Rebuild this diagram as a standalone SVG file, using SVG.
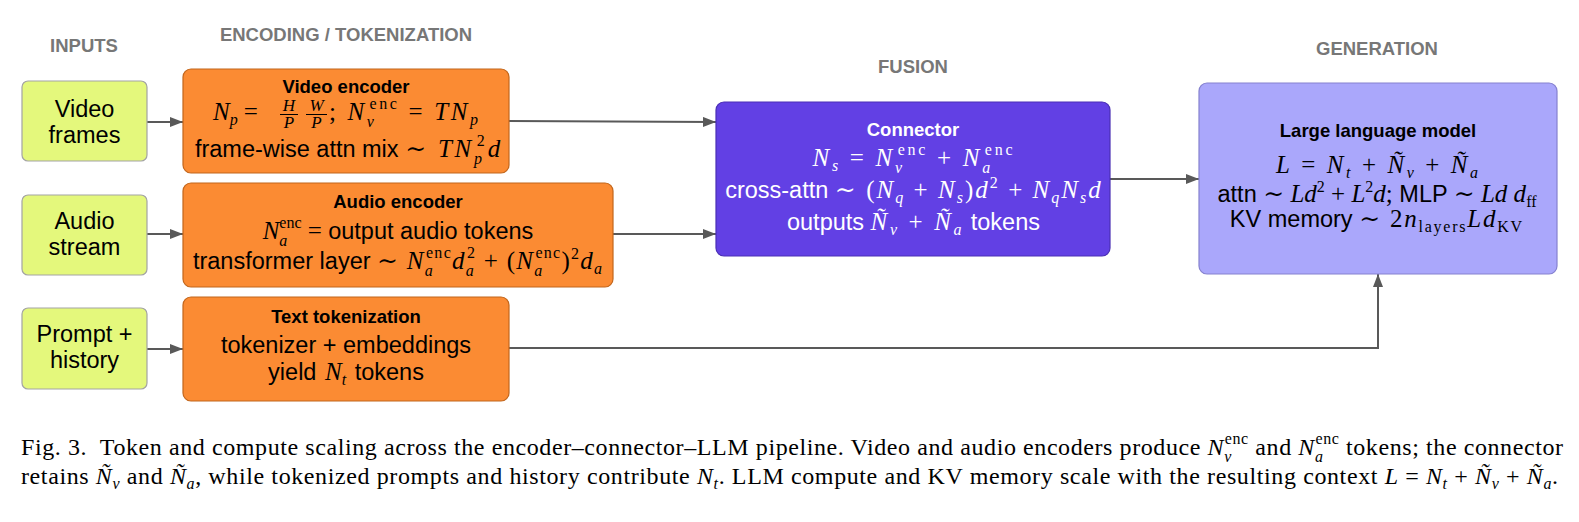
<svg xmlns="http://www.w3.org/2000/svg" width="1579" height="522" viewBox="0 0 1579 522">
<style>
.h{font-family:"Liberation Sans",Arial,sans-serif;font-weight:bold;font-size:18.5px;fill:#777}
.t{font-family:"Liberation Sans",Arial,sans-serif;font-size:23.5px;fill:#000}
.w{fill:#fff}
.b{font-weight:bold;font-size:18.5px}
.mi{font-family:"Liberation Serif",serif;font-style:italic;font-size:25px}
.mr{font-family:"Liberation Serif","DejaVu Serif",serif;font-style:normal;font-size:25px}
.si{font-family:"Liberation Serif",serif;font-style:italic;font-size:16px}
.sr{font-family:"Liberation Serif",serif;font-style:normal;font-size:16px}
.fr{font-family:"Liberation Serif",serif;font-style:italic;font-size:17px}
.cap{font-family:"Liberation Serif",serif;font-size:24px;fill:#000}
.ci{font-style:italic}
.cs{font-style:italic;font-size:16px}
.csr{font-size:16px}
.in{fill:#e4f87c;stroke:#a3a3a3;stroke-width:1.2}
.enc{fill:#fb8b33;stroke:#c2661c;stroke-width:1.2}
.con{fill:#6240e4;stroke:#4a2fb5;stroke-width:1.2}
.llm{fill:#aaa7fb;stroke:#8581cf;stroke-width:1.2}
.e{fill:none;stroke:#595959;stroke-width:2}
</style>
<defs>
<marker id="ah" viewBox="0 0 13 10" refX="13" refY="5" markerWidth="13" markerHeight="10" markerUnits="userSpaceOnUse" orient="auto">
<path d="M0,0 L13,5 L0,10 z" fill="#595959"/>
</marker>
</defs>
<rect width="1579" height="522" fill="#fff"/>

<g id="headers">
<text class="h" x="84" y="52" text-anchor="middle">INPUTS</text>
<text class="h" x="346" y="41" text-anchor="middle">ENCODING / TOKENIZATION</text>
<text class="h" x="913" y="73" text-anchor="middle">FUSION</text>
<text class="h" x="1377" y="55" text-anchor="middle">GENERATION</text>
</g>

<g id="connectors">
<path class="e" d="M147,122 H183" marker-end="url(#ah)"/>
<path class="e" d="M147,234 H183" marker-end="url(#ah)"/>
<path class="e" d="M147,349 H183" marker-end="url(#ah)"/>
<path class="e" d="M509,121 L716,122" marker-end="url(#ah)"/>
<path class="e" d="M613,234 H716" marker-end="url(#ah)"/>
<path class="e" d="M1110,179 H1199" marker-end="url(#ah)"/>
<path class="e" d="M509,348 H1378 V274" marker-end="url(#ah)"/>
</g>

<g id="video-frames">
<rect class="in" x="22" y="81" width="125" height="80" rx="6"/>
<text class="t" x="84.5" y="117" text-anchor="middle">Video</text>
<text class="t" x="84.5" y="143" text-anchor="middle">frames</text>
</g>

<g id="audio-stream">
<rect class="in" x="22" y="195" width="125" height="80" rx="6"/>
<text class="t" x="84.5" y="229" text-anchor="middle">Audio</text>
<text class="t" x="84.5" y="255" text-anchor="middle">stream</text>
</g>

<g id="prompt-history">
<rect class="in" x="22" y="308" width="125" height="81" rx="6"/>
<text class="t" x="84.5" y="342" text-anchor="middle">Prompt +</text>
<text class="t" x="84.5" y="368" text-anchor="middle">history</text>
</g>

<g id="video-encoder">
<rect class="enc" x="183" y="69" width="326" height="104" rx="8"/>
<text class="t b" x="346" y="93" text-anchor="middle">Video encoder</text>
<text class="t" x="213" y="120"><tspan class="mi">N</tspan><tspan class="si" dy="5">p</tspan><tspan class="mr" dy="-5" dx="6">=</tspan></text>
<text class="fr" x="289" y="111" text-anchor="middle">H</text>
<text class="fr" x="289" y="128" text-anchor="middle">P</text>
<text class="fr" x="316.5" y="111" text-anchor="middle">W</text>
<text class="fr" x="316.5" y="128" text-anchor="middle">P</text>
<path d="M280,114.5 H298 M306,114.5 H327" stroke="#000" stroke-width="1"/>
<text class="t" x="329" y="120" textLength="149" lengthAdjust="spacing"><tspan class="mr">; </tspan><tspan class="mi">N</tspan><tspan class="si" dy="7">v</tspan><tspan class="sr" dx="-7.1" dy="-18">enc</tspan><tspan class="mr" dy="11"> = </tspan><tspan class="mi">TN</tspan><tspan class="si" dy="5">p</tspan></text>
<text class="t" x="347.5" y="157" text-anchor="middle">frame-wise attn mix <tspan textLength="95" lengthAdjust="spacing"><tspan class="mr">∼ </tspan><tspan class="mi">TN</tspan><tspan class="si" dy="7">p</tspan><tspan class="sr" dx="-8" dy="-18">2</tspan><tspan class="mi" dy="11">d</tspan></tspan></text>
</g>

<g id="audio-encoder">
<rect class="enc" x="183" y="183" width="430" height="104" rx="8"/>
<text class="t b" x="398" y="208" text-anchor="middle">Audio encoder</text>
<text class="t" x="398" y="239" text-anchor="middle"><tspan class="mi">N</tspan><tspan class="si" dy="7">a</tspan><tspan class="sr" dx="-8" dy="-18">enc</tspan><tspan class="mr" dy="11"> = </tspan>output audio tokens</text>
<text class="t" x="397.5" y="269" text-anchor="middle">transformer layer <tspan textLength="225" lengthAdjust="spacing"><tspan class="mr">∼ </tspan><tspan class="mi">N</tspan><tspan class="si" dy="7">a</tspan><tspan class="sr" dx="-8" dy="-18">enc</tspan><tspan class="mi" dy="11">d</tspan><tspan class="si" dy="7">a</tspan><tspan class="sr" dx="-8" dy="-18">2</tspan><tspan class="mr" dy="11"> + (</tspan><tspan class="mi">N</tspan><tspan class="si" dy="7">a</tspan><tspan class="sr" dx="-8" dy="-18">enc</tspan><tspan class="mr" dy="11">)</tspan><tspan class="sr" dy="-10">2</tspan><tspan class="mi" dy="10">d</tspan><tspan class="si" dy="5">a</tspan></tspan></text>
</g>

<g id="text-tokenization">
<rect class="enc" x="183" y="297" width="326" height="104" rx="8"/>
<text class="t b" x="346" y="323" text-anchor="middle">Text tokenization</text>
<text class="t" x="346" y="353" text-anchor="middle">tokenizer + embeddings</text>
<text class="t" x="346" y="380" text-anchor="middle">yield <tspan class="mi" dx="2">N</tspan><tspan class="si" dy="5">t</tspan><tspan dy="-5" dx="2"> tokens</tspan></text>
</g>

<g id="connector">
<rect class="con" x="716" y="102" width="394" height="154" rx="8"/>
<text class="t w b" x="913" y="136" text-anchor="middle">Connector</text>
<text class="t w" x="912.5" y="166" text-anchor="middle" textLength="200" lengthAdjust="spacing"><tspan class="mi">N</tspan><tspan class="si" dy="5">s</tspan><tspan class="mr" dy="-5"> = </tspan><tspan class="mi">N</tspan><tspan class="si" dy="7">v</tspan><tspan class="sr" dx="-7.1" dy="-18">enc</tspan><tspan class="mr" dy="11"> + </tspan><tspan class="mi">N</tspan><tspan class="si" dy="7">a</tspan><tspan class="sr" dx="-8" dy="-18">enc</tspan></text>
<text class="t w" x="913" y="198" text-anchor="middle">cross-attn <tspan textLength="266" lengthAdjust="spacing"><tspan class="mr">∼ (</tspan><tspan class="mi">N</tspan><tspan class="si" dy="5">q</tspan><tspan class="mr" dy="-5"> + </tspan><tspan class="mi">N</tspan><tspan class="si" dy="5">s</tspan><tspan class="mr" dy="-5">)</tspan><tspan class="mi">d</tspan><tspan class="sr" dy="-10">2</tspan><tspan class="mr" dy="10"> + </tspan><tspan class="mi">N</tspan><tspan class="si" dy="5">q</tspan><tspan class="mi" dy="-5">N</tspan><tspan class="si" dy="5">s</tspan><tspan class="mi" dy="-5">d</tspan></tspan></text>
<text class="t w" x="913.5" y="230" text-anchor="middle">outputs <tspan textLength="91" lengthAdjust="spacing"><tspan class="mi">Ñ</tspan><tspan class="si" dy="5">v</tspan><tspan class="mr" dy="-5"> + </tspan><tspan class="mi">Ñ</tspan><tspan class="si" dy="5">a</tspan></tspan><tspan dy="-5"> tokens</tspan></text>
</g>

<g id="llm">
<rect class="llm" x="1199" y="83" width="358" height="191" rx="8"/>
<text class="t b" x="1378" y="137" text-anchor="middle">Large language model</text>
<text class="t" x="1377" y="173" text-anchor="middle" textLength="202" lengthAdjust="spacing"><tspan class="mi">L</tspan><tspan class="mr"> = </tspan><tspan class="mi">N</tspan><tspan class="si" dy="5">t</tspan><tspan class="mr" dy="-5"> + </tspan><tspan class="mi">Ñ</tspan><tspan class="si" dy="5">v</tspan><tspan class="mr" dy="-5"> + </tspan><tspan class="mi">Ñ</tspan><tspan class="si" dy="5">a</tspan></text>
<text class="t" x="1377" y="202" text-anchor="middle">attn <tspan class="mr">∼ </tspan><tspan class="mi">Ld</tspan><tspan class="sr" dy="-10">2</tspan><tspan class="mr" dy="10"> + </tspan><tspan class="mi">L</tspan><tspan class="sr" dy="-10">2</tspan><tspan class="mi" dy="10">d</tspan><tspan class="mr">;</tspan> MLP <tspan class="mr">∼ </tspan><tspan class="mi">Ld d</tspan><tspan class="sr" dy="5">ff</tspan></text>
<text class="t" x="1376" y="227" text-anchor="middle">KV memory <tspan textLength="163" lengthAdjust="spacing"><tspan class="mr">∼ 2</tspan><tspan class="mi">n</tspan><tspan class="sr" dy="5">layers</tspan><tspan class="mi" dy="-5">Ld</tspan><tspan class="sr" dy="5">KV</tspan></tspan></text>
</g>

<g id="caption">
<text class="cap" x="21" y="455" textLength="1542" lengthAdjust="spacing">Fig. 3.&#160; Token and compute scaling across the encoder–connector–LLM pipeline. Video and audio encoders produce <tspan class="ci">N</tspan><tspan class="cs" dy="7">v</tspan><tspan class="csr" dx="-7.1" dy="-18">enc</tspan><tspan dy="11"> and </tspan><tspan class="ci">N</tspan><tspan class="cs" dy="7">a</tspan><tspan class="csr" dx="-8" dy="-18">enc</tspan><tspan dy="11"> tokens; the connector</tspan></text>
<text class="cap" x="21" y="484" textLength="1537" lengthAdjust="spacing">retains <tspan class="ci">Ñ</tspan><tspan class="cs" dy="5">v</tspan><tspan dy="-5"> and </tspan><tspan class="ci">Ñ</tspan><tspan class="cs" dy="5">a</tspan><tspan dy="-5">, while tokenized prompts and history contribute </tspan><tspan class="ci">N</tspan><tspan class="cs" dy="5">t</tspan><tspan dy="-5">. LLM compute and KV memory scale with the resulting context </tspan><tspan class="ci">L</tspan><tspan> = </tspan><tspan class="ci">N</tspan><tspan class="cs" dy="5">t</tspan><tspan dy="-5"> + </tspan><tspan class="ci">Ñ</tspan><tspan class="cs" dy="5">v</tspan><tspan dy="-5"> + </tspan><tspan class="ci">Ñ</tspan><tspan class="cs" dy="5">a</tspan><tspan dy="-5">.</tspan></text>
</g>
</svg>
